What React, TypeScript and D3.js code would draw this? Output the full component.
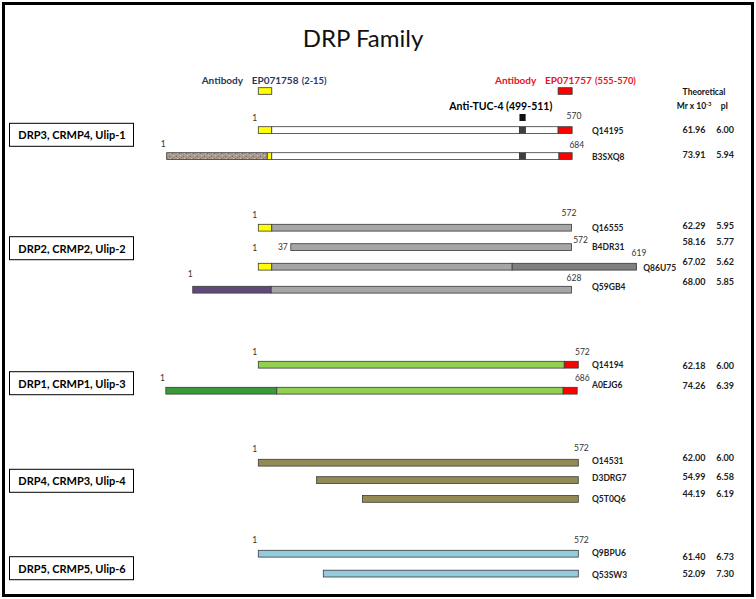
import React from 'react';
import * as d3 from 'd3';

// ---------- DATA ----------
const title = 'DRP Family';
const groupNames = [
  'DRP3, CRMP4, Ulip-1',
  'DRP2, CRMP2, Ulip-2',
  'DRP1, CRMP1, Ulip-3',
  'DRP4, CRMP3, Ulip-4',
  'DRP5, CRMP5, Ulip-6',
];
const accessions = ['Q14195', 'B3SXQ8', 'Q16555', 'B4DR31', 'Q86U75', 'Q59GB4', 'Q14194', 'A0EJG6', 'O14531', 'D3DRG7', 'Q5T0Q6', 'Q9BPU6', 'Q53SW3'];
const mrValues = ['61.96', '73.91', '62.29', '58.16', '67.02', '68.00', '62.18', '74.26', '62.00', '54.99', '44.19', '61.40', '52.09'];
const piValues = ['6.00', '5.94', '5.95', '5.77', '5.62', '5.85', '6.00', '6.39', '6.00', '6.58', '6.19', '6.73', '7.30'];
const startLabels = ['1', '1', '1', '37', '1', '1', '1', '1', '1', '', '', '1', ''];
const endLabels = ['570', '684', '572', '572', '619', '628', '572', '686', '572', '', '', '572', ''];
// segments per protein, in shared alignment positions: [from, to, kind]
const segments: [number, number, string][][] = [
  [[1, 25, 'yellow'], [25, 467, 'white'], [467, 478, 'tuc'], [478, 536, 'white'], [536, 561, 'red']],
  [[-162.5, 17, 'texture'], [17, 25, 'yellow'], [25, 467, 'white'], [467, 478, 'tuc'], [478, 537.5, 'white'], [537.5, 561, 'red']],
  [[1, 25, 'yellow'], [25, 560, 'gray']],
  [[59, 560, 'gray']],
  [[1, 25, 'yellow'], [25, 454, 'gray'], [454, 676, 'darkgray']],
  [[-116, 24, 'purple'], [24, 560, 'gray']],
  [[1, 547, 'lightgreen'], [547, 572, 'red']],
  [[-164, 34, 'darkgreen'], [34, 545, 'lightgreen'], [545, 570, 'red']],
  [[1, 572, 'olive']],
  [[105, 572, 'olive']],
  [[187, 572, 'olive']],
  [[1, 572, 'blue']],
  [[117, 572, 'blue']],
];
// antibody legends
const abLeft = ['Antibody', 'EP071758', '(2-15)'];
const abRight = ['Antibody', 'EP071757', '(555-570)'];
const tucLabel = 'Anti-TUC-4 (499-511)';
// epitope markers (alignment positions)
const epitopeLeft: [number, number] = [1, 25];
const epitopeRight: [number, number] = [536, 561];
const epitopeTuc: [number, number] = [467, 478];

// ---------- STYLE / LAYOUT ----------
const FONT = 'Lato, "Open Sans", sans-serif';
const fills: Record<string, string> = {
  yellow: '#FFFF00', white: '#FFFFFF', tuc: '#404040', red: '#FF0000',
  texture: 'url(#granite)', gray: '#A6A6A6', darkgray: '#7F7F7F', purple: '#604A7B',
  lightgreen: '#92D050', darkgreen: '#3A9A3A', olive: '#948A54', blue: '#93CDDD',
};
const rowTop = [126.7, 152.7, 224.3, 243.7, 263.3, 286.3, 361.3, 387.3, 459.3, 476.7, 495.5, 550.3, 570.2];
const accY = [130.7, 156.7, 228.3, 246.7, 267.7, 286.7, 365, 385, 461, 478.3, 499, 553.3, 575];
const valY = [129, 154, 225, 241.7, 261, 281.7, 365, 385, 457.7, 476.7, 493.3, 556.7, 573.3];
const startDx = [-1, -1, -1, -3, -1, 0, -1, -1, -1, 0, 0, -1, 0];
const startDy = [-9, -8.7, -9.3, 3, -15.6, -12.3, -9, -9, -10, 0, 0, -10.3, 0];
const endDx = [-5.6, -2.7, -10, 1.6, -5, -5, -3.3, -2.3, -4.3, 0, 0, -4.3, 0];
const endDy = [-11, -7.7, -11, -3.7, -10.6, -8, -9, -9, -11.3, 0, 0, -10.3, 0];
const boxTop = [123.3, 236.7, 371.7, 469.3, 556.7];
const BAR_H = 6.8;

export default function App() {
  const x = d3.scaleLinear().domain([1, 572]).range([258.3, 578.3]);
  return (
    <svg width={756} height={599} style={{ position: 'absolute', left: 0, top: 0, background: '#fff' }} fontFamily={FONT}>
      <defs>
        <pattern id="granite" width="7" height="5" patternUnits="userSpaceOnUse">
          <rect width="7" height="5" fill="#A99C8E" />
          <rect x="1" y="1" width="1" height="1" fill="#6E6357" />
          <rect x="4" y="3" width="1" height="1" fill="#7B6F62" />
          <rect x="5" y="0" width="1" height="1" fill="#D0C7BC" />
          <rect x="2" y="3" width="1" height="1" fill="#C9BFB3" />
          <rect x="6" y="2" width="1" height="1" fill="#857A6D" />
        </pattern>
      </defs>
      <rect x={0} y={0} width={756} height={599} fill="#fff" />
      <rect x={3.5} y={3.5} width={749} height={592} fill="none" stroke="#000" strokeWidth={3} />
      <text x={363} y={47} textAnchor="middle" fontSize={24} fill="#111">{title}</text>

      {/* antibody legends */}
      <g fontWeight={700} fill="#1F3864">
        <text x={201.7} y={84} fontSize={10}>{abLeft[0]}</text>
        <text x={251.7} y={84} fontSize={10}>{abLeft[1]}</text>
        <text x={301.7} y={84} fontSize={9.3}>{abLeft[2]}</text>
      </g>
      <rect x={x(epitopeLeft[0])} y={87.7} width={x(epitopeLeft[1]) - x(epitopeLeft[0])} height={6.6} fill={fills.yellow} stroke="#333" strokeWidth={0.8} />
      <g fontWeight={700} fill="#E8141B">
        <text x={495} y={84} fontSize={10}>{abRight[0]}</text>
        <text x={545} y={84} fontSize={10}>{abRight[1]}</text>
        <text x={595} y={84} fontSize={9.3}>{abRight[2]}</text>
      </g>
      <rect x={x(epitopeRight[0])} y={87.7} width={x(epitopeRight[1]) - x(epitopeRight[0])} height={6.6} fill={fills.red} stroke="#333" strokeWidth={0.8} />
      <text x={449.3} y={110} fontSize={10.5} fontWeight={700} fill="#000">{tucLabel}</text>
      <rect x={x(epitopeTuc[0])} y={114} width={x(epitopeTuc[1]) - x(epitopeTuc[0])} height={7} fill="#111" />

      {/* header */}
      <text x={704} y={95} textAnchor="middle" fontSize={8.5} fontWeight={700} fill="#111">Theoretical</text>
      <text x={676.7} y={108.5} fontSize={8.5} fontWeight={700} fill="#111">
        Mr x 10<tspan fontSize={5.5} dy={-3}>-3</tspan>
      </text>
      <text x={720.7} y={108.5} fontSize={8.5} fontWeight={700} fill="#111">pI</text>

      {/* group boxes */}
      {groupNames.map((g, i) => (
        <g key={g}>
          <rect x={9.5} y={boxTop[i]} width={124} height={23} fill="#fff" stroke="#000" strokeWidth={1} />
          <text x={18.3} y={boxTop[i] + 11.5} dominantBaseline="central" fontSize={11} fontWeight={700} fill="#000">{g}</text>
        </g>
      ))}

      {/* bars */}
      {segments.map((segs, i) => {
        const y0 = rowTop[i];
        const s = segs[0][0];
        const e = segs[segs.length - 1][1];
        return (
          <g key={accessions[i]}>
            {segs.map(([a, b, k], j) => (
              <rect key={j} x={x(a)} y={y0} width={x(b) - x(a)} height={BAR_H} fill={fills[k]} stroke="#3a3a3a" strokeWidth={0.8} />
            ))}
            {startLabels[i] && (
              <text x={x(s) + startDx[i]} y={y0 + startDy[i]} textAnchor="end" dominantBaseline="central" fontSize={8.5} fill="#333">{startLabels[i]}</text>
            )}
            {endLabels[i] && (
              <text x={x(e) + endDx[i]} y={y0 + endDy[i]} dominantBaseline="central" fontSize={8.5} fill="#333">{endLabels[i]}</text>
            )}
            <text x={i === 4 ? x(e) + 6.6 : 592} y={accY[i]} dominantBaseline="central" fontSize={8.5} fontWeight={700} fill="#222">{accessions[i]}</text>
            <text x={705.5} y={valY[i]} textAnchor="end" dominantBaseline="central" fontSize={9} fontWeight={700} fill="#222">{mrValues[i]}</text>
            <text x={734} y={valY[i]} textAnchor="end" dominantBaseline="central" fontSize={9} fontWeight={700} fill="#222">{piValues[i]}</text>
          </g>
        );
      })}
    </svg>
  );
}
